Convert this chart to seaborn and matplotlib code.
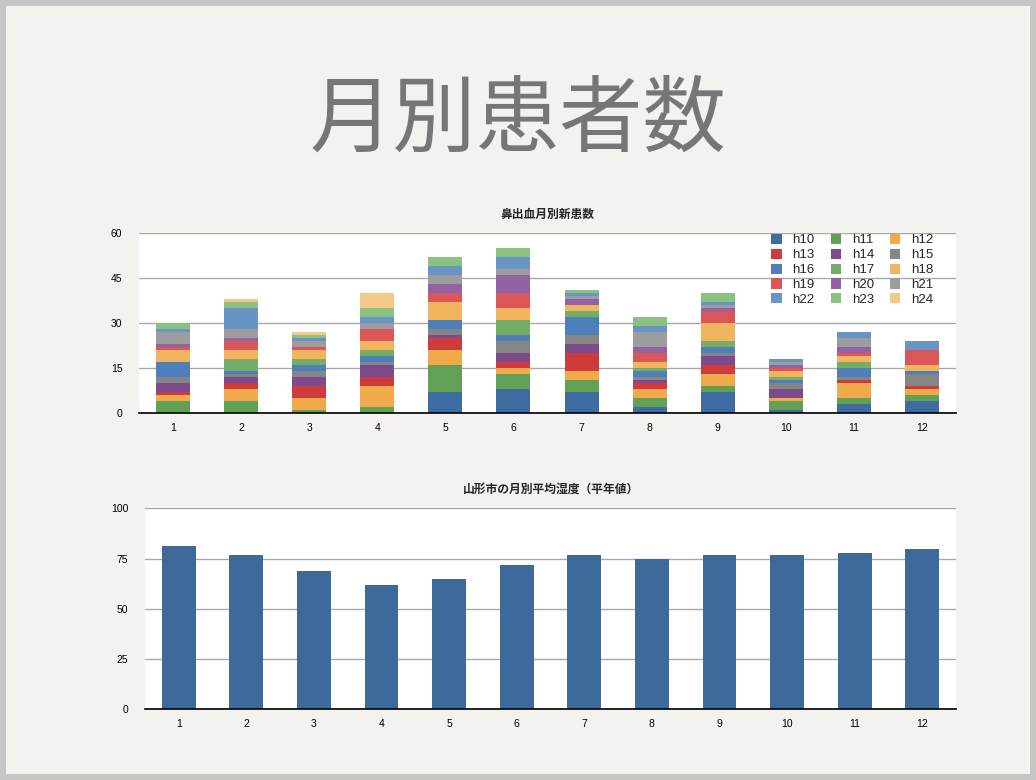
import pandas as pd
import seaborn as sns
import matplotlib.pyplot as plt
from matplotlib.patches import Patch, Rectangle

sns.set_style("white")
plt.rcParams['font.family'] = ['Liberation Sans', 'Noto Sans CJK JP', 'DejaVu Sans']

months = [str(m) for m in range(1, 13)]
years = ['h%d' % y for y in range(10, 25)]

# new nosebleed patients per month, one list per year (h10..h24)
h10 = [0, 0, 0, 0, 7, 8, 7, 2, 7, 1, 3, 4]
h11 = [4, 4, 1, 2, 9, 5, 4, 3, 2, 3, 2, 2]
h12 = [2, 4, 4, 7, 5, 2, 3, 3, 4, 1, 5, 2]
h13 = [1, 2, 4, 3, 4, 2, 6, 2, 3, 0, 1, 1]
h14 = [3, 2, 3, 4, 1, 3, 3, 1, 3, 3, 0, 0]
h15 = [2, 1, 2, 1, 2, 4, 3, 1, 1, 2, 1, 4]
h16 = [5, 1, 2, 2, 3, 2, 6, 2, 2, 1, 3, 1]
h17 = [0, 4, 2, 2, 0, 5, 2, 1, 2, 1, 2, 0]
h18 = [4, 3, 3, 3, 6, 4, 2, 2, 6, 2, 2, 2]
h19 = [1, 3, 1, 4, 3, 5, 0, 3, 4, 1, 1, 5]
h20 = [1, 1, 0, 0, 3, 6, 2, 2, 1, 1, 2, 0]
h21 = [4, 3, 2, 2, 3, 2, 1, 5, 1, 1, 3, 0]
h22 = [1, 7, 1, 2, 3, 4, 1, 2, 1, 1, 2, 3]
h23 = [2, 2, 1, 3, 3, 3, 1, 3, 3, 0, 0, 0]
h24 = [0, 1, 1, 5, 0, 0, 0, 0, 0, 0, 0, 0]

# Yamagata monthly mean humidity (normal values)
humidity = [81, 77, 69, 62, 65, 72, 77, 75, 77, 77, 78, 80]

colors = ['#3e6ba1', '#62a055', '#f0aa4c', '#cf3a3a', '#7e4a8c',
          '#858585', '#4e7fbb', '#73ad66', '#f3b45f', '#db5656',
          '#9362a4', '#9d9d9d', '#6894c6', '#8cc27f', '#f4c887']

df = pd.DataFrame([h10, h11, h12, h13, h14, h15, h16, h17, h18, h19,
                   h20, h21, h22, h23, h24], index=years, columns=months)
cum = df.cumsum()

fig = plt.figure(figsize=(10.36, 7.8), dpi=100)
fig.patch.set_facecolor('#c6c6c6')
fig.patches.append(Rectangle((6 / 1036, 6 / 780), 1 - 12 / 1036, 1 - 12 / 780,
                             transform=fig.transFigure, facecolor='#f3f2ee',
                             edgecolor='none', zorder=-10))

fig.text(0.5, 1 - 120 / 780, '月別患者数', ha='center', va='center',
         fontsize=60, color='#767676', family='Noto Sans CJK JP')

def style_axes(ax, ymax, step):
    ax.set_facecolor('white')
    ax.set_ylim(0, ymax)
    ax.set_xlim(-0.5, 11.5)
    ax.set_yticks(range(0, ymax + 1, step))
    ax.yaxis.grid(True, color='#a9a9a9', linewidth=1)
    ax.set_axisbelow(True)
    for s in ['top', 'left', 'right']:
        ax.spines[s].set_visible(False)
    ax.spines['bottom'].set_color('black')
    ax.spines['bottom'].set_linewidth(1.2)
    ax.spines['bottom'].set_zorder(5)
    ax.tick_params(axis='both', length=0, labelsize=7.5, colors='black')
    ax.tick_params(axis='y', pad=12)
    ax.tick_params(axis='x', pad=7)
    ax.set_xlabel('')
    ax.set_ylabel('')

# top chart: stacked bars (draw cumulative totals from the top layer down)
ax1 = fig.add_axes([139 / 1036, 1 - 413.3 / 780, 817 / 1036, 180 / 780])
for i in range(len(years) - 1, -1, -1):
    sns.barplot(x=months, y=cum.iloc[i].values, color=colors[i], width=0.5,
                saturation=1, linewidth=0, edgecolor='none', ax=ax1, zorder=2)
style_axes(ax1, 60, 15)
ax1.set_title('鼻出血月別新患数', fontsize=8.5, fontweight='bold',
              family='Noto Sans CJK JP', pad=11)

handles = [Patch(facecolor=c, edgecolor='none') for c in colors]
order = [i for col in range(3) for i in range(col, 15, 3)]
ax1.legend([handles[i] for i in order], [years[i] for i in order], ncol=3,
           frameon=False, loc='upper left', bbox_to_anchor=(0.774, 0.997),
           fontsize=9.5, handlelength=0.8, handleheight=0.8,
           columnspacing=1.2, labelspacing=0.17, handletextpad=0.8,
           borderaxespad=0, borderpad=0)

# bottom chart: humidity
ax2 = fig.add_axes([145 / 1036, 1 - 709.3 / 780, 811 / 1036, 201 / 780])
sns.barplot(x=months, y=humidity, color='#3e6a9b', width=0.5,
            saturation=1, linewidth=0, edgecolor='none', ax=ax2, zorder=2)
style_axes(ax2, 100, 25)
ax2.set_title('山形市の月別平均湿度（平年値）', fontsize=8.5, fontweight='bold',
              family='Noto Sans CJK JP', pad=11)

fig.savefig('out.png', dpi=100, facecolor=fig.get_facecolor())
